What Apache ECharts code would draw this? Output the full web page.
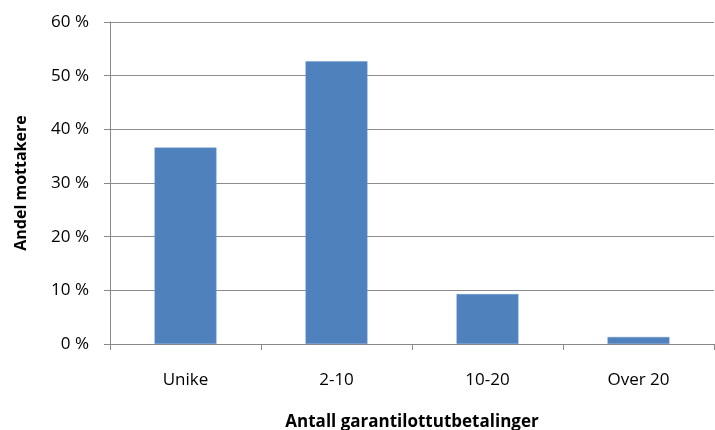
<!DOCTYPE html>
<html><head><meta charset="utf-8">
<script src="https://cdn.jsdelivr.net/npm/echarts@6/dist/echarts.min.js"></script>
<style>html,body{margin:0;padding:0;background:#fff}#c{width:715px;height:430px}</style>
</head><body><div id="c"></div>
<script>
var categories = ['Unike', '2-10', '10-20', 'Over 20'];
var values = [36.6, 52.7, 9.3, 1.3];
var yTicks = [0, 10, 20, 30, 40, 50, 60];

var chart = echarts.init(document.getElementById('c'));
var font = 'Open Sans, Liberation Sans, sans-serif';
chart.setOption({
  animation: false,
  grid: {left: 110, right: 1, top: 22, bottom: 86, outerBoundsMode: 'none', containLabel: false},
  xAxis: {
    type: 'category', data: categories,
    axisLine: {lineStyle: {color: '#888', width: 1}},
    axisTick: {show: true, length: 6, lineStyle: {color: '#888'}},
    axisLabel: {color: '#000', fontSize: 17, fontFamily: font, margin: 28},
    name: 'Antall garantilottutbetalinger', nameLocation: 'middle', nameGap: 70,
    nameTextStyle: {color: '#000', fontSize: 17, fontWeight: 'bold', fontFamily: font}
  },
  yAxis: {
    type: 'value', min: yTicks[0], max: yTicks[yTicks.length - 1], interval: 10,
    axisLine: {show: true, lineStyle: {color: '#888', width: 1}},
    axisTick: {show: true, length: 6, lineStyle: {color: '#888'}},
    splitLine: {lineStyle: {color: '#8c8c8c', width: 1}},
    axisLabel: {color: '#000', fontSize: 17, fontFamily: font, margin: 21, formatter: '{value} %'},
    name: 'Andel mottakere', nameLocation: 'middle', nameGap: 81, nameRotate: 90,
    nameTextStyle: {color: '#000', fontSize: 16, fontWeight: 'bold', fontFamily: font}
  },
  series: [{
    type: 'bar', data: values, barWidth: '41%',
    itemStyle: {color: '#4f81bd', borderColor: '#6d97cc', borderWidth: 0.5}
  }]
});
</script></body></html>
